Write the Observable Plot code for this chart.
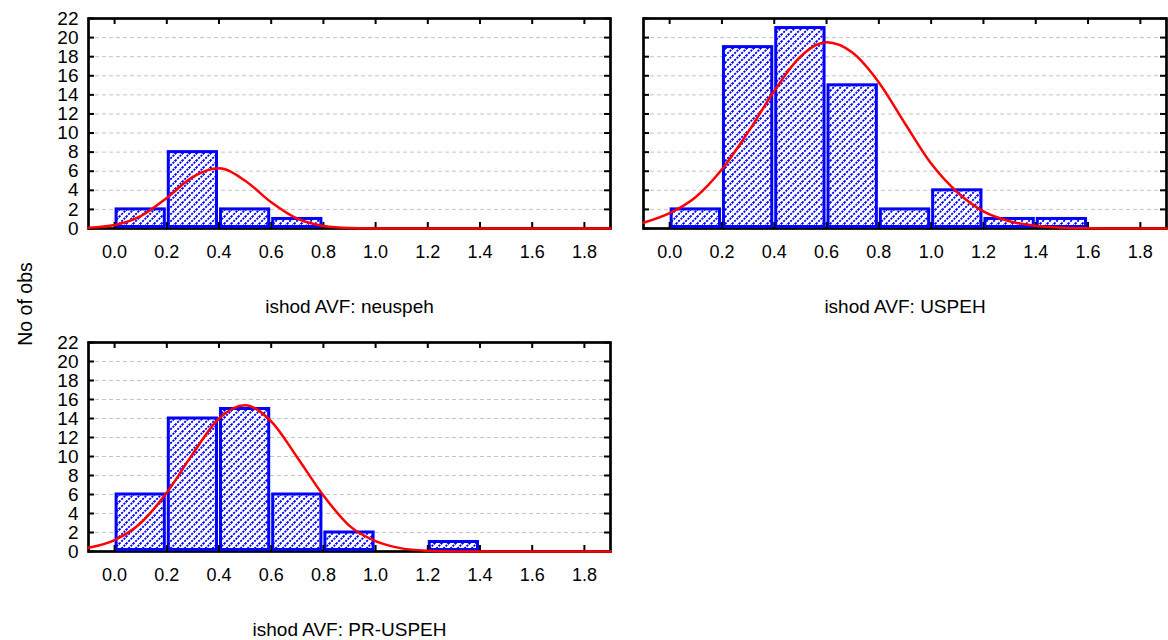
<!DOCTYPE html>
<html><head><meta charset="utf-8">
<script src="https://cdn.jsdelivr.net/npm/d3@7"></script>
<script src="https://cdn.jsdelivr.net/npm/@observablehq/plot@0.6"></script>
<style>
html,body{margin:0;padding:0;background:#fff;}
#wrap{position:relative;width:1168px;height:640px;overflow:hidden;font-family:'Liberation Sans',Arial,sans-serif;background:#fff;}
.panel{position:absolute;}
#ylab{position:absolute;z-index:10;left:24.5px;top:304px;transform:translate(-50%,-50%) rotate(-90deg);font-size:19.5px;white-space:nowrap;color:#000;line-height:normal;}
</style></head><body>
<div id="wrap"><div id="ylab">No of obs</div></div>
<script>
// ---- data ----
const binStarts = [0, 0.2, 0.4, 0.6, 0.8, 1.0, 1.2, 1.4];
const binEnds   = [0.2, 0.4, 0.6, 0.8, 1.0, 1.2, 1.4, 1.6];
const countsNeuspeh  = [2, 8, 2, 1, 0, 0, 0, 0];
const countsUspeh    = [2, 19, 21, 15, 2, 4, 1, 1];
const countsPrUspeh  = [6, 14, 15, 6, 2, 0, 1, 0];

// fitted normal curves
const curveX = [-0.1, 0, 0.1, 0.2, 0.3, 0.4, 0.5, 0.6, 0.7, 0.8, 0.9, 1.0, 1.1, 1.2, 1.3, 1.4, 1.5, 1.6, 1.7, 1.8, 1.9];
const curveNeuspeh = [0.07, 0.36, 1.3, 3.2, 5.4, 6.3, 5.0, 2.75, 1.03, 0.27, 0.05, 0.01, 0, 0, 0, 0, 0, 0, 0, 0, 0];
const curveUspeh   = [0.6, 1.6, 3.3, 6.2, 10.1, 14.4, 18.0, 19.5, 18.4, 15.3, 11.0, 6.8, 3.8, 1.8, 0.76, 0.28, 0.09, 0.02, 0, 0, 0];
const curvePrUspeh = [0.4, 1.2, 3.0, 6.2, 10.3, 14.0, 15.4, 13.7, 9.9, 5.9, 2.7, 1.1, 0.33, 0.08, 0.01, 0, 0, 0, 0, 0, 0];

const xTicks = [0, 0.2, 0.4, 0.6, 0.8, 1.0, 1.2, 1.4, 1.6, 1.8];
const xTickLabels = ["0.0", "0.2", "0.4", "0.6", "0.8", "1.0", "1.2", "1.4", "1.6", "1.8"];
const yTicks = [0, 2, 4, 6, 8, 10, 12, 14, 16, 18, 20, 22];
const gridValues = [2, 4, 6, 8, 10, 12, 14, 16, 18, 20];
const panelTitles = ["ishod AVF: neuspeh", "ishod AVF: USPEH", "ishod AVF: PR-USPEH"];

// ---- drawing ----
const wrap = document.getElementById("wrap");

function panel(cfg) {
  const innerW = cfg.width - cfg.mL - cfg.mR;
  const innerH = cfg.height - cfg.mT - cfg.mB;
  const bars = binStarts.map((s, i) => ({x1: s, x2: binEnds[i], n: cfg.counts[i]})).filter(d => d.n > 0);
  const pts = curveX.map((x, i) => ({x, y: cfg.curve[i]}));
  const marks = [
    Plot.ruleY(gridValues, {y: d => d, stroke: "#c4c4c4", strokeWidth: 1, strokeDasharray: "4,3"}),
    Plot.frame({stroke: "#000", strokeWidth: 2.7}),
    Plot.rect(bars, {x1: "x1", x2: "x2", y1: d => 0, y2: "n", fill: `url(#${cfg.id})`, stroke: "#0000ff", strokeWidth: 3, insetLeft: 2, insetRight: 2, insetBottom: 1.5}),
    Plot.tickX(xTicks, {x: d => d, stroke: "#000", strokeWidth: 2, insetTop: innerH - 6}),
    Plot.tickX(xTicks, {x: d => d, stroke: "#000", strokeWidth: 2, insetBottom: innerH - 6}),
    Plot.tickY(yTicks, {y: d => d, stroke: "#000", strokeWidth: 2, insetRight: innerW - 6}),
    Plot.tickY(yTicks, {y: d => d, stroke: "#000", strokeWidth: 2, insetLeft: innerW - 6}),
    Plot.line(pts, {x: "x", y: "y", stroke: "#ff0000", strokeWidth: 2.5, curve: "monotone-x"}),
    Plot.axisX(xTicks, {tickSize: 0, tickPadding: 16.5, tickFormat: d => xTickLabels[xTicks.indexOf(d)], fontSize: 18, label: null}),
    Plot.text([cfg.title], {text: d => d, frameAnchor: "bottom", dy: 84, lineAnchor: "bottom", fontSize: 19, fill: "#000"})
  ];
  if (cfg.yLabels) marks.push(Plot.axisY(yTicks, {tickSize: 0, tickPadding: 10, fontSize: 19, label: null}));
  const svg = Plot.plot({
    width: cfg.width,
    height: cfg.height,
    marginLeft: cfg.mL,
    marginRight: cfg.mR,
    marginTop: cfg.mT,
    marginBottom: cfg.mB,
    style: {fontFamily: "'Liberation Sans', Arial, sans-serif", background: "transparent", color: "#000"},
    x: {domain: [-0.1, 1.9]},
    y: {domain: [0, 22], axis: cfg.yLabels ? undefined : null},
    marks
  });
  const defs = d3.select(svg).insert("defs", ":first-child");
  const pat = defs.append("pattern").attr("id", cfg.id).attr("patternUnits", "userSpaceOnUse").attr("width", 7).attr("height", 7);
  pat.append("rect").attr("width", 7).attr("height", 7).attr("fill", "#fff");
  pat.append("path").attr("d", "M0,7L7,0M-1,1L1,-1M6,8L8,6")
    .attr("stroke", "#0000ff").attr("stroke-width", 1.9).attr("stroke-dasharray", "2.1 1.2").attr("fill", "none");
  const div = document.createElement("div");
  div.className = "panel";
  div.style.left = cfg.left + "px";
  div.style.top = cfg.top + "px";
  div.appendChild(svg);
  wrap.appendChild(div);
}

panel({id: "hatchA", counts: countsNeuspeh, curve: curveNeuspeh, title: panelTitles[0], left: 0, top: 0, width: 620, height: 320, mL: 88, mR: 10, mT: 18, mB: 92, yLabels: true});
panel({id: "hatchB", counts: countsUspeh, curve: curveUspeh, title: panelTitles[1], left: 620, top: 0, width: 548, height: 320, mL: 23, mR: 2, mT: 18, mB: 92, yLabels: false});
panel({id: "hatchC", counts: countsPrUspeh, curve: curvePrUspeh, title: panelTitles[2], left: 0, top: 320, width: 620, height: 320, mL: 88, mR: 10, mT: 22, mB: 89, yLabels: true});
</script>
</body></html>
